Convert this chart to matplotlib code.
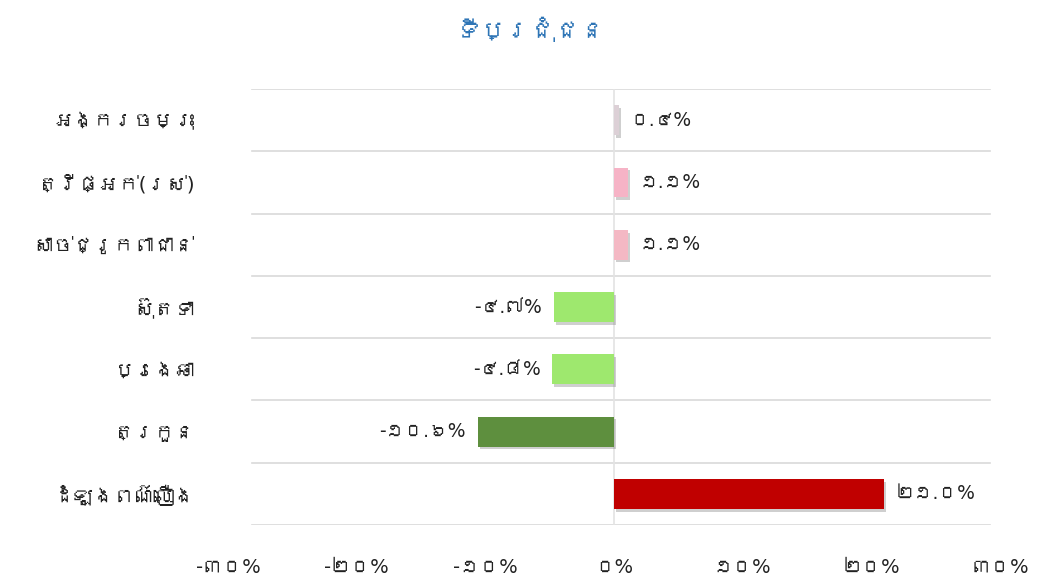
import matplotlib
matplotlib.use("Agg")
import matplotlib.pyplot as plt
import matplotlib.patheffects as pe
from matplotlib import font_manager
from matplotlib.ft2font import FT2Font

# data
items = ["អង្ករចម្រុះ", "ត្រីផ្អក់(រស់)", "សាច់ជ្រូកពាជាន់", "ស៊ុតទា",
         "ប្រេងឆា", "ត្រកួន", "ដំឡូងពណ៌លឿង"]
change = [0.4, 1.1, 1.1, -4.7, -4.8, -10.6, 21.0]
colors = ["#dcd0d6", "#f6b3c6", "#f4b8c4", "#9ee86e", "#9ee86e", "#5e8f3e", "#c00000"]
ticks = [-30, -20, -10, 0, 10, 20, 30]
title = "ទីប្រជុំជន"

# look for a font that has khmer glyphs; latin signs stay in dejavu
khmer_font = None
for f in font_manager.fontManager.ttflist:
    try:
        if 0x1780 in FT2Font(f.fname).get_charmap():
            khmer_font = f.name
            break
    except Exception:
        pass
families = ["DejaVu Sans", khmer_font] if khmer_font else ["DejaVu Sans"]
plt.rcParams["font.family"] = families

kh_digits = str.maketrans("0123456789", "០១២៣៤៥៦៧៨៩")
def kh(s):
    return s.translate(kh_digits)

fig = plt.figure(figsize=(10.44, 5.77), dpi=100)
ax = fig.add_axes([0.2184, 0.0901, 0.7395, 0.7556])

y = list(range(len(items)))
bars = ax.barh(y, change, height=0.48, color=colors, zorder=3)
for b in bars:
    b.set_path_effects([pe.SimplePatchShadow(offset=(1.5, -2), shadow_rgbFace="#777777", alpha=0.35),
                        pe.Normal()])

for yi, v in zip(y, change):
    txt = kh("%.1f%%" % v)
    if v >= 0:
        ax.text(v + 0.9, yi, txt, va="center", ha="left", fontsize=13.5, color="#222222")
    else:
        ax.text(v - 0.9, yi, txt, va="center", ha="right", fontsize=13.5, color="#222222")

ax.set_xlim(-30, 30)
ax.set_ylim(len(items) - 0.5, -0.5)
for g in [i - 0.5 for i in range(len(items) + 1)]:
    ax.axhline(g, xmin=0.031, xmax=0.987, color="#d9d9d9", lw=1.2, zorder=1)
ax.axvline(0, color="#e3e3e3", lw=1.2, zorder=2)

ax.set_xticks(ticks)
ax.set_xticklabels([kh("%d%%" % t) for t in ticks], fontsize=14, color="#222222")
ax.set_yticks(y)
ax.set_yticklabels(items, fontsize=14.5, color="#222222")
ax.tick_params(axis="x", length=0, pad=24)
ax.tick_params(axis="y", length=0, pad=24)
for s in ax.spines.values():
    s.set_visible(False)

fig.text(0.508, 0.945, title, ha="center", va="center", fontsize=18, color="#2e75b6")

fig.savefig("out.png", dpi=100)
